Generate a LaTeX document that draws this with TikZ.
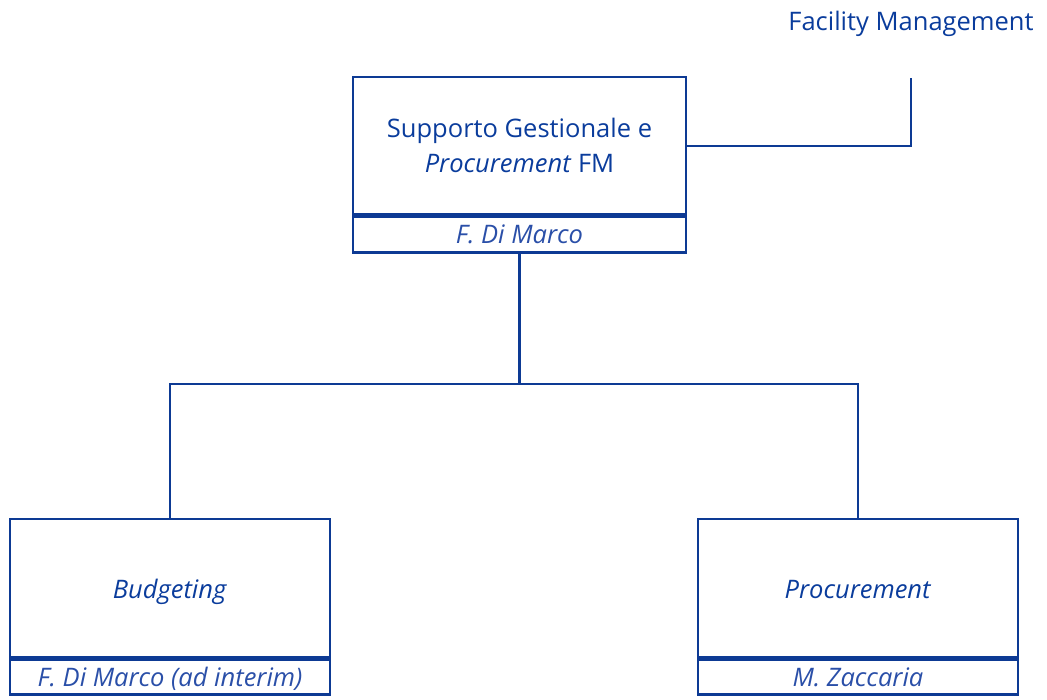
\documentclass[tikz,border=0pt]{standalone}
\usepackage{fontspec}
\setmainfont{Open Sans}
\definecolor{txtblue}{HTML}{0A3C9C}
\definecolor{boxblue}{HTML}{0D3A94}
\definecolor{namblue}{HTML}{2A4FA8}
\begin{document}
\begin{tikzpicture}[x=1pt,y=-1pt,
  unit/.style={draw=boxblue, line width=2.5pt, rectangle, inner sep=0pt, align=center,
    text=txtblue, font=\fontsize{25.5}{34.5}\selectfont},
  namebox/.style={draw=boxblue, line width=2.5pt, rectangle, inner sep=0pt, align=center,
    text=namblue, text height=21pt, text depth=3pt, font=\fontsize{25.5}{28}\selectfont\itshape},
  link/.style={draw=boxblue, line width=2.2pt}]
\useasboundingbox (0,0) rectangle (1047,700);
% top unit
\node[unit, minimum width=333pt, minimum height=137pt] (top) at (519.5,145.5)
  {Supporto Gestionale e\\\textit{Procurement} FM};
\node[namebox, minimum width=333pt, minimum height=36pt, anchor=north] (topn) at (top.south)
  {F. Di Marco};
% left unit
\node[unit, minimum width=320pt, minimum height=138pt, text height=22pt, text depth=2pt] (bud) at (170,588)
  {\textit{Budgeting}};
\node[namebox, minimum width=320pt, minimum height=35pt, anchor=north] (budn) at (bud.south)
  {F. Di Marco (ad interim)};
% right unit
\node[unit, minimum width=320pt, minimum height=138pt, text height=22pt, text depth=2pt] (proc) at (858,588)
  {\textit{Procurement}};
\node[namebox, minimum width=320pt, minimum height=35pt, anchor=north] (procn) at (proc.south)
  {M. Zaccaria};
% parent label
\node[text=txtblue, font=\fontsize{25.5}{30}\selectfont, anchor=base] (fm) at (911,31) {Facility Management};
\coordinate (fmend) at (911,78);
% connectors
\coordinate (bar) at (519.5,384);
\draw[link] (top.east |- 0,146) -| (fmend);
\draw[link] (topn.south) -- (bar);
\draw[link] (bud.north) |- (bar) -| (proc.north);
\end{tikzpicture}
\end{document}
